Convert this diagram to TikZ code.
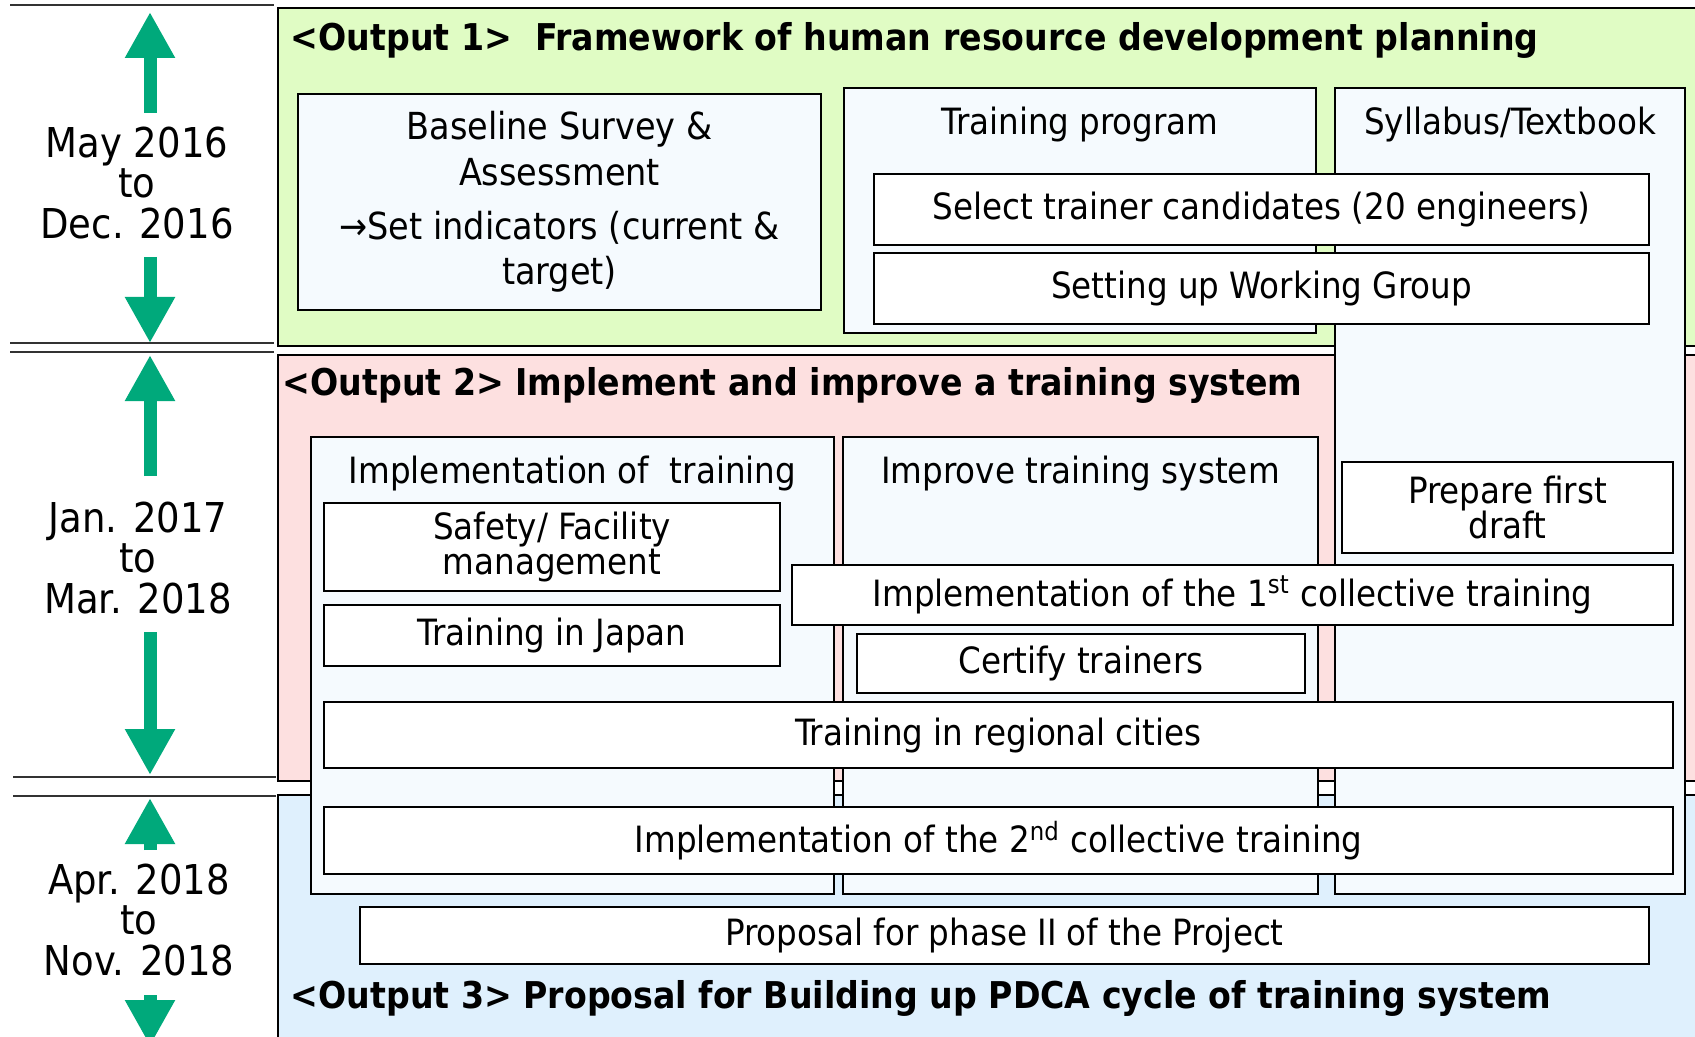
\documentclass[tikz,border=0pt]{standalone}
\usepackage{fontspec}
\setmainfont{DejaVu Sans Condensed}
\usepackage{xcolor}
\definecolor{outgreen}{HTML}{E0FCC4}
\definecolor{outpink}{HTML}{FDE0E0}
\definecolor{outblue}{HTML}{DFF0FD}
\definecolor{colfill}{HTML}{F5FAFE}
\definecolor{tlgreen}{HTML}{00A97B}
\usepackage{tikz}
\usetikzlibrary{positioning, arrows.meta}

\begin{document}
\begin{tikzpicture}[font=\fontsize{10.3}{10}\selectfont,
    band/.style={draw, line width=0.7pt, anchor=north west, minimum width=14.4cm},
    colbox/.style={draw, line width=0.6pt, fill=colfill, anchor=north west},
    taskbox/.style={draw, line width=0.6pt, fill=white, anchor=north west, align=center, inner sep=1pt},
    outtitle/.style={anchor=west, inner sep=0pt, font=\fontsize{10.5}{12}\selectfont\bfseries},
    datetext/.style={align=center, font=\fontsize{11.7}{11.5}\selectfont},
    tlarrow/.style={draw=tlgreen, line width=0.13cm, -{Triangle[length=0.46cm, width=0.47cm]}},
    sepline/.style={line width=0.6pt, draw=black!80}]
        \useasboundingbox (0,0) rectangle (16.95,-10.37);
        \clip (0,0) rectangle (16.95,-10.37);

        % Output bands
        \node[band, fill=outgreen, minimum height=3.38cm] (out1) at (2.77,-0.07) {};
        \node[band, fill=outpink, minimum height=4.26cm] (out2) at (2.77,-3.54) {};
        \node[band, fill=outblue, minimum height=2.60cm] (out3) at (2.77,-7.94) {};

        \node[outtitle] (title1) at (2.90,-0.40) {<Output 1>\ \ Framework of human resource development planning};
        \node[outtitle] (title2) at (2.82,-3.85) {<Output 2> Implement and improve a training system};
        \node[outtitle] (title3) at (2.90,-9.98) {<Output 3> Proposal for Building up PDCA cycle of training system};

        % Timeline
        \draw[sepline] (0.10,-0.05) -- (2.74,-0.05);
        \draw[sepline] (0.10,-3.43) -- (2.74,-3.43);
        \draw[sepline] (0.10,-3.52) -- (2.74,-3.52);
        \draw[sepline] (0.13,-7.77) -- (2.76,-7.77);
        \draw[sepline] (0.13,-7.96) -- (2.76,-7.96);

        \node[datetext] (date1) at (1.37,-1.83) {May 2016\\to\\Dec. 2016};
        \node[datetext] (date2) at (1.38,-5.58) {Jan. 2017\\to\\Mar. 2018};
        \node[datetext] (date3) at (1.39,-9.20) {Apr. 2018\\to\\Nov. 2018};

        \coordinate (up1s) at (1.50,-1.13);  \coordinate (up1e) at (1.50,-0.12);
        \coordinate (dn1s) at (1.50,-2.57);  \coordinate (dn1e) at (1.50,-3.43);
        \coordinate (up2s) at (1.50,-4.76);  \coordinate (up2e) at (1.50,-3.55);
        \coordinate (dn2s) at (1.50,-6.32);  \coordinate (dn2e) at (1.50,-7.75);
        \coordinate (up3s) at (1.50,-8.50);  \coordinate (up3e) at (1.50,-7.98);
        \coordinate (dn3s) at (1.50,-9.95);  \coordinate (dn3e) at (1.50,-10.46);
        \draw[tlarrow] (up1s) -- (up1e);
        \draw[tlarrow] (dn1s) -- (dn1e);
        \draw[tlarrow] (up2s) -- (up2e);
        \draw[tlarrow] (dn2s) -- (dn2e);
        \draw[tlarrow] (up3s) -- (up3e);
        \draw[tlarrow] (dn3s) -- (dn3e);

        % Columns
        \node[colbox, align=center, minimum width=5.23cm, minimum height=2.16cm, font=\fontsize{10.6}{13}\selectfont] (baseline) at (2.97,-0.93) {Baseline Survey \&\\Assessment\\[0.08cm]→Set indicators (current \&\\target)};
        \node[colbox, minimum width=4.72cm, minimum height=2.45cm] (program) at (8.43,-0.87) {};
        \node[below=0.08cm of program.north] {Training program};
        \node[colbox, minimum width=3.50cm, minimum height=8.06cm] (syllabus) at (13.34,-0.87) {};
        \node[below=0.08cm of syllabus.north] {Syllabus/Textbook};
        \node[colbox, minimum width=5.23cm, minimum height=4.57cm] (implement) at (3.10,-4.36) {};
        \node[below=0.08cm of implement.north] {Implementation of~ training};
        \node[colbox, minimum width=4.75cm, minimum height=4.57cm] (improve) at (8.42,-4.36) {};
        \node[below=0.08cm of improve.north] {Improve training system};

        % Tasks
        \node[taskbox, minimum width=7.75cm, minimum height=0.71cm] (select) at (8.73,-1.73) {Select trainer candidates (20 engineers)};
        \node[taskbox, minimum width=7.75cm, minimum height=0.71cm] (group) at (8.73,-2.52) {Setting up Working Group};
        \node[taskbox, minimum width=4.56cm, minimum height=0.88cm] (safety) at (3.23,-5.02) {Safety/ Facility\\management};
        \node[taskbox, minimum width=4.56cm, minimum height=0.61cm] (japan) at (3.23,-6.04) {Training in Japan};
        \node[taskbox, minimum width=3.31cm, minimum height=0.91cm] (draft) at (13.41,-4.61) {Prepare first\\draft};
        \node[taskbox, minimum width=8.81cm, minimum height=0.60cm] (first) at (7.91,-5.64) {Implementation of the 1\textsuperscript{st} collective training};
        \node[taskbox, minimum width=4.48cm, minimum height=0.59cm] (certify) at (8.56,-6.33) {Certify trainers};
        \node[taskbox, minimum width=13.49cm, minimum height=0.66cm] (regional) at (3.23,-7.01) {Training in regional cities};
        \node[taskbox, minimum width=13.49cm, minimum height=0.67cm] (second) at (3.23,-8.06) {Implementation of the 2\textsuperscript{nd} collective training};
        \node[taskbox, minimum width=12.89cm, minimum height=0.57cm] (phase) at (3.59,-9.06) {Proposal for phase II of the Project};
\end{tikzpicture}
\end{document}
